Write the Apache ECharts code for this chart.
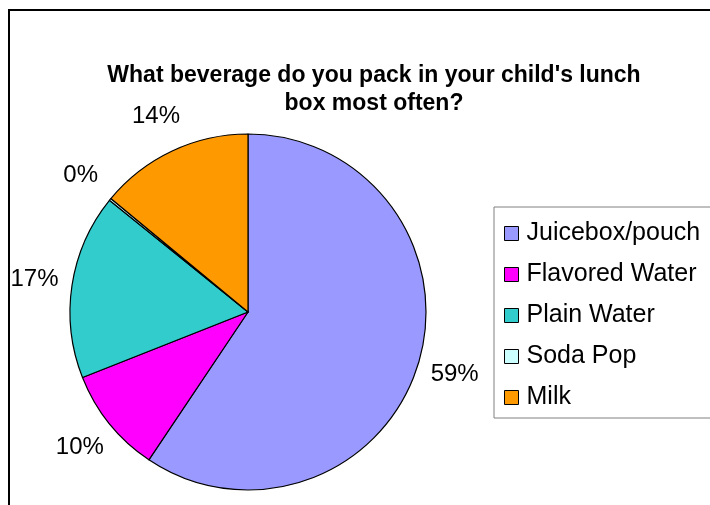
<!DOCTYPE html>
<html>
<head>
<meta charset="utf-8">
<script src="https://cdn.jsdelivr.net/npm/echarts@6/dist/echarts.min.js"></script>
<style>
  html, body { margin: 0; padding: 0; background: #fff; }
  #chart { width: 710px; height: 505px; }
</style>
</head>
<body>
<div id="chart"></div>
<script>
// beverage categories and their share (percent)
const categories = ["Juicebox/pouch", "Flavored Water", "Plain Water", "Soda Pop", "Milk"];
const shares = [59.4, 9.6, 16.8, 0.2, 14.0];
const colors = ["#9999FF", "#FF00FF", "#33CCCC", "#CCFFFF", "#FF9900"];

const font = "Liberation Sans, Arial, sans-serif";
const pieData = categories.map((name, i) => ({ name: name, value: shares[i] }));

let chart = echarts.init(document.getElementById("chart"));
let option = {
  animation: false,
  color: colors,
  title: {
    text: "What beverage do you pack in your child's lunch\nbox most often?",
    left: 369,
    top: 57,
    textAlign: "center",
    textStyle: {
      fontFamily: font,
      fontSize: 23,
      fontWeight: "bold",
      color: "#000",
      lineHeight: 28,
    },
  },
  legend: {
    orient: "vertical",
    left: 494,
    top: 207,
    padding: [14, 30, 8, 10],
    itemWidth: 14,
    itemHeight: 14,
    itemGap: 16,
    icon: "rect",
    borderColor: "#808080",
    borderWidth: 1,
    textStyle: { fontFamily: font, fontSize: 25, color: "#000", padding: [0, 0, 0, 3] },
    itemStyle: { borderColor: "#000", borderWidth: 1 },
    data: categories,
  },
  graphic: [
    {
      type: "rect",
      shape: { x: 9, y: 10, width: 740, height: 540 },
      style: { fill: "none", stroke: "#000", lineWidth: 2 },
      silent: true,
    },
  ],
  series: [
    {
      type: "pie",
      center: [248, 312],
      radius: 178,
      startAngle: 90,
      clockwise: true,
      itemStyle: { borderColor: "#000", borderWidth: 1.2 },
      label: { show: false },
      labelLine: { show: false },
      emphasis: { disabled: true },
      data: pieData,
    },
    {
      // transparent ring that carries the percent labels just outside the pie
      type: "pie",
      center: [248, 312],
      radius: [178, 248],
      startAngle: 90,
      clockwise: true,
      silent: true,
      legendHoverLink: false,
      percentPrecision: 0,
      itemStyle: { color: "rgba(0,0,0,0)", borderWidth: 0 },
      label: {
        show: true,
        position: "inside",
        formatter: "{d}%",
        fontFamily: font,
        fontSize: 24,
        color: "#000",
      },
      labelLine: { show: false },
      emphasis: { disabled: true },
      data: pieData,
    },
  ],
};
chart.setOption(option);
</script>
</body>
</html>
